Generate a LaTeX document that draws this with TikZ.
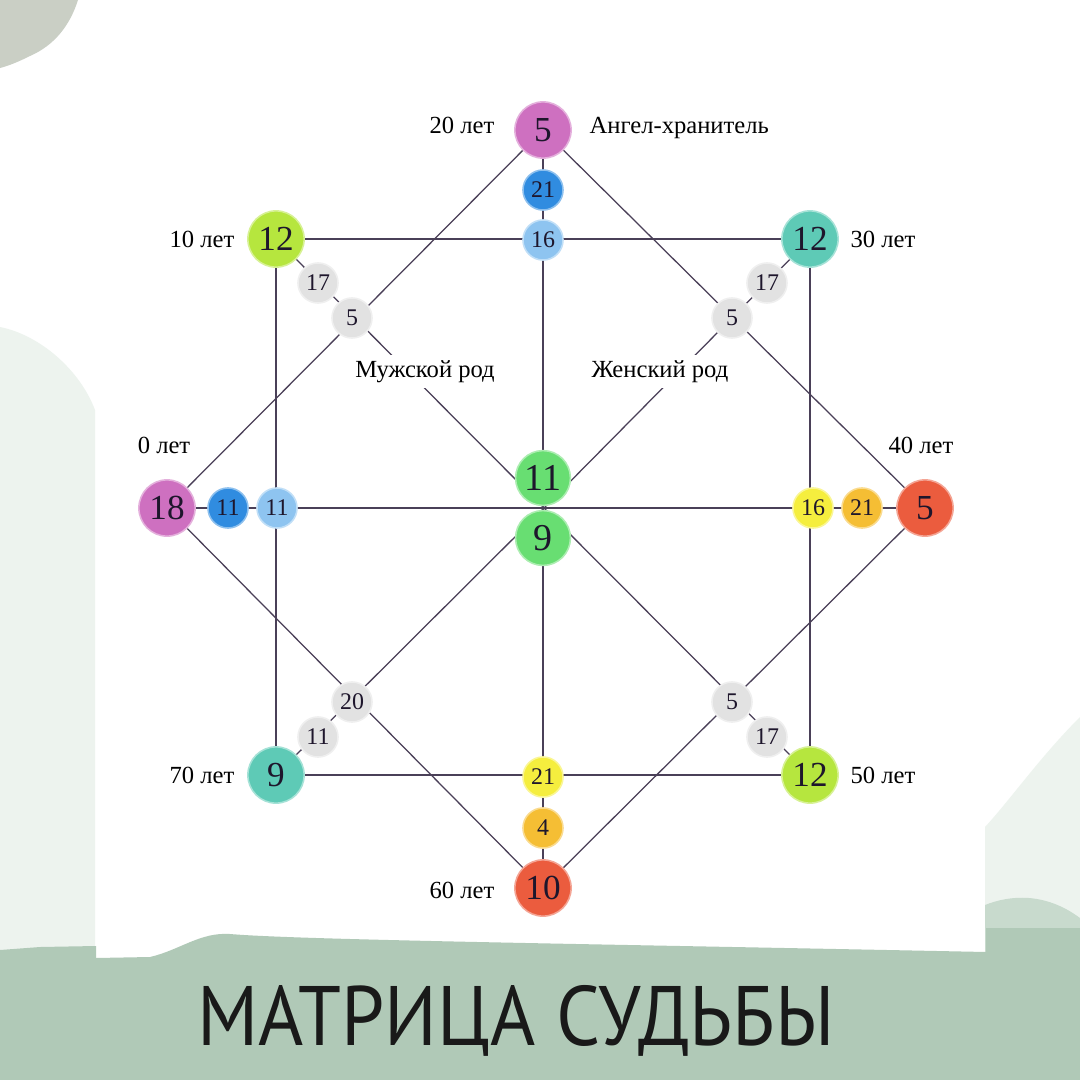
\documentclass[tikz,border=0pt]{standalone}
\usepackage{graphicx}
\usepackage{fontspec}
\setmainfont{Liberation Serif}
\newfontfamily\titlefont{PT Sans}

\definecolor{orchid}{RGB}{206,112,192}
\definecolor{deepblue}{RGB}{48,140,224}
\definecolor{skyblue}{RGB}{142,196,240}
\definecolor{lime}{RGB}{182,230,62}
\definecolor{teal}{RGB}{94,202,182}
\definecolor{mist}{RGB}{226,226,226}
\definecolor{mint}{RGB}{104,222,114}
\definecolor{lemon}{RGB}{245,238,62}
\definecolor{amber}{RGB}{245,190,52}
\definecolor{coral}{RGB}{235,92,62}
\definecolor{wire}{RGB}{74,64,88}
\definecolor{numink}{RGB}{30,22,44}
\definecolor{sage}{RGB}{176,201,183}
\definecolor{sagehill}{RGB}{200,218,205}
\definecolor{pale}{RGB}{237,243,238}
\definecolor{stone}{RGB}{202,207,197}

\pgfdeclarelayer{paper}
\pgfdeclarelayer{wires}
\pgfsetlayers{paper,wires,main}

\tikzset{ball/.style={circle,inner sep=0pt,text=numink,line width=1.1pt,fill=#1,draw=#1!55!white},
         bigball/.style={ball=#1,minimum size=40pt,font=\fontsize{25}{25}\selectfont},
         midball/.style={ball=#1,minimum size=39pt,font=\fontsize{27}{27}\selectfont},
         smallball/.style={ball=#1,minimum size=28.5pt,font=\fontsize{17}{17}\selectfont},
         tag/.style={anchor=base,inner sep=1pt,font=\fontsize{17.5}{20}\selectfont},
         gender/.style={tag,fill=white,inner sep=4pt}}

\begin{document}
\begin{tikzpicture}[x=0.025cm,y=-0.025cm]
                  \useasboundingbox (0,0) rectangle (1080,1080);
                  \coordinate (mid) at (544,508);
                  \node[bigball=orchid] (top) at (543,130) {5};
                  \node[smallball=deepblue] (top21) at (543,190) {21};
                  \node[smallball=skyblue] (top16) at (543,240) {16};
                  \node[bigball=orchid] (left) at (167,508) {18};
                  \node[smallball=deepblue] (left11) at (228,508) {11};
                  \node[smallball=skyblue] (left11b) at (277,508) {11};
                  \node[bigball=coral] (right) at (925,508) {5};
                  \node[smallball=amber] (right21) at (862,508) {21};
                  \node[smallball=lemon] (right16) at (813,508) {16};
                  \node[bigball=coral] (bottom) at (543,888) {10};
                  \node[smallball=amber] (bottom4) at (543,828) {4};
                  \node[smallball=lemon] (bottom21) at (543,777) {21};
                  \node[bigball=lime] (nw) at (276,239) {12};
                  \node[smallball=mist] (nw17) at (318,283) {17};
                  \node[smallball=mist] (nw5) at (352,318) {5};
                  \node[bigball=teal] (ne) at (810,239) {12};
                  \node[smallball=mist] (ne17) at (767,283) {17};
                  \node[smallball=mist] (ne5) at (732,318) {5};
                  \node[bigball=teal] (sw) at (276,775) {9};
                  \node[smallball=mist] (sw11) at (318,737) {11};
                  \node[smallball=mist] (sw20) at (352,702) {20};
                  \node[bigball=lime] (se) at (810,775) {12};
                  \node[smallball=mist] (se17) at (767,737) {17};
                  \node[smallball=mist] (se5) at (732,702) {5};
                  \node[midball=mint] (core11) at (543,478) {11};
                  \node[midball=mint] (core9) at (543,538) {9};
                  \node[gender] (male) at (425,377) {Мужской род};
                  \node[gender] (female) at (660,377) {Женский род};
                  \node[tag,anchor=base east] (age20) at (496,133) {20 лет};
                  \node[tag,anchor=base west] (angel) at (588,133) {Ангел-хранитель};
                  \node[tag,anchor=base east] (age10) at (236,247) {10 лет};
                  \node[tag,anchor=base west] (age30) at (849,247) {30 лет};
                  \node[tag] (age0) at (164,453) {0 лет};
                  \node[tag] (age40) at (921,453) {40 лет};
                  \node[tag,anchor=base east] (age70) at (236,783) {70 лет};
                  \node[tag,anchor=base west] (age50) at (849,783) {50 лет};
                  \node[tag,anchor=base east] (age60) at (496,898) {60 лет};
                  \node[anchor=base,inner sep=0pt,text=black!90] (title) at (516,1045)
                       {\resizebox{453pt}{42.7pt}{\titlefont МАТРИЦА СУДЬБЫ}};
                  \begin{pgfonlayer}{wires}
                  \draw[wire,line width=0.9pt] (nw.center) -- (ne.center) -- (se.center) -- (sw.center) -- cycle;
                  \draw[wire,line width=0.9pt] (top.center) -- (left.center) -- (bottom.center) -- (right.center) -- cycle;
                  \draw[wire,line width=0.9pt] (left.center) -- (right.center);
                  \draw[wire,line width=0.9pt] (top.center) -- (bottom.center);
                  \draw[wire,line width=0.9pt] (nw.center) -- (mid) -- (se.center);
                  \draw[wire,line width=0.9pt] (ne.center) -- (mid) -- (sw.center);
                  \end{pgfonlayer}
                  \begin{pgfonlayer}{paper}
                  \fill[white] (0,0) rectangle (1080,1080);
                  \fill[stone] (0,0) -- (78,0) .. controls (70,25) and (55,45) .. (30,56) .. controls (18,62) and (8,66) .. (0,68) -- cycle;
                  \fill[pale] (0,327) .. controls (40,335) and (80,370) .. (95,410) -- (95,960) -- (0,960) -- cycle;
                  \fill[pale] (985,827) .. controls (1010,800) and (1040,757) .. (1080,717) -- (1080,960) -- (985,960) -- cycle;
                  \fill[sagehill] (985,905) .. controls (1010,895) and (1045,892) .. (1080,918) -- (1080,960) -- (985,960) -- cycle;
                  \fill[sage] (0,950) -- (40,947) -- (96,946) -- (96,958) -- (150,957) .. controls (180,950) and (200,932) .. (230,934)
                       .. controls (300,940) and (600,944) .. (986,952) -- (986,928) -- (1080,928) -- (1080,1080) -- (0,1080) -- cycle;
                  \end{pgfonlayer}
              \end{tikzpicture}
\end{document}
